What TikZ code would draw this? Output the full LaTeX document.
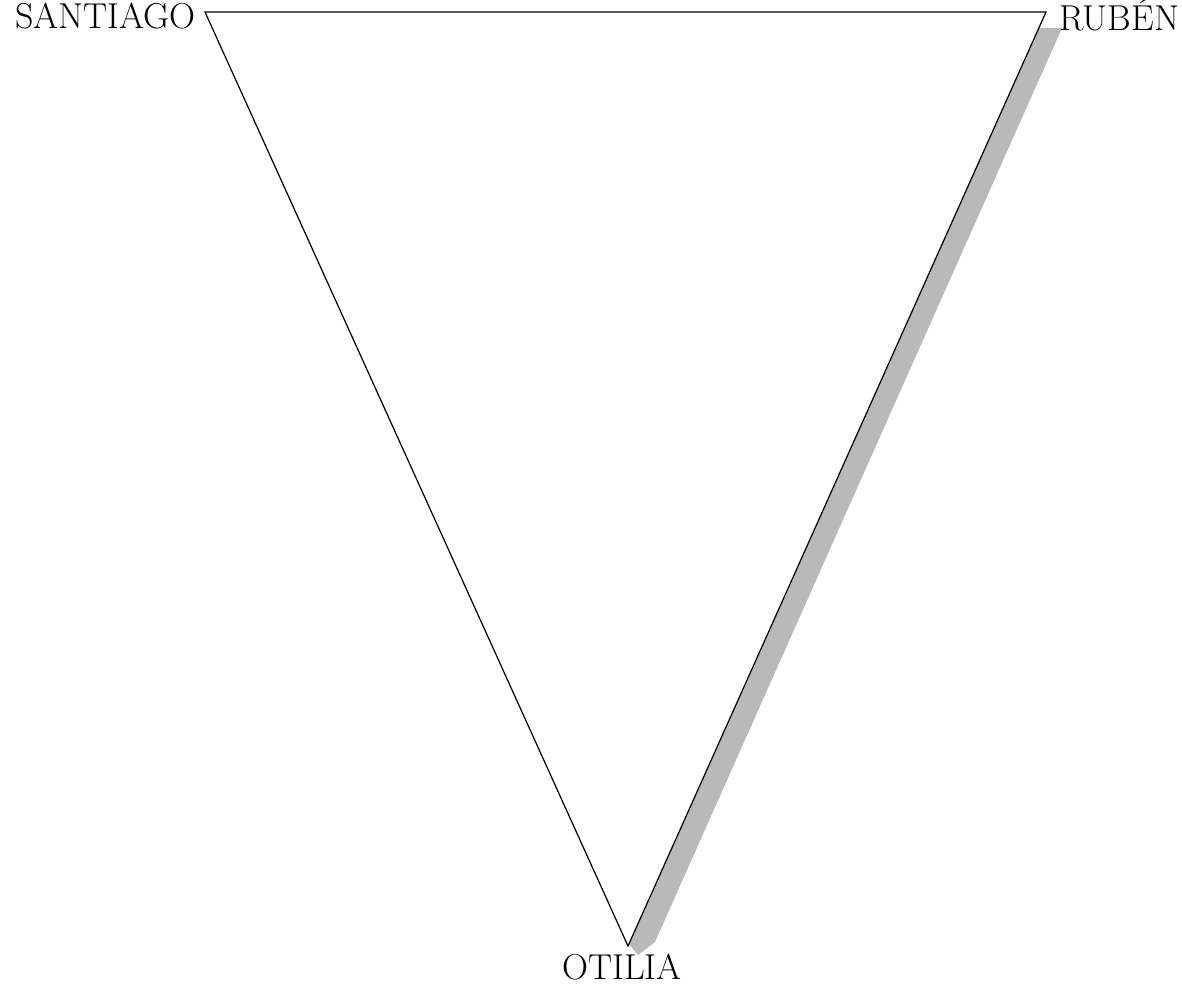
\documentclass[tikz,border=0pt]{standalone}
\usetikzlibrary{positioning}
\tikzset{who/.style={font=\fontsize{20.5}{20.5}\selectfont, inner sep=0pt},
  side/.style={line width=0.7pt}}
\begin{document}
\begin{tikzpicture}[x=0.02cm,y=-0.02cm]
  \useasboundingbox (0,0) rectangle (1182,990);
  % corners of the triangle
  \coordinate (santiago) at (205,12);
  \coordinate (ruben) at (1046,12);
  \coordinate (otilia) at (628,946);
  % grey shadow along the right side
  \fill[gray!55] (1039,28) -- (1062,28) -- (655,942) -- (638,955) -- (629,944) -- cycle;
  \draw[side] (santiago) -- (ruben) -- (otilia) -- cycle;
  % names
  \node[who, anchor=base east] (lsantiago) at (196,29) {SANTIAGO};
  \node[who, anchor=base west] (lruben) at (1059,31) {RUBÉN};
  \node[who, anchor=base] (lotilia) at (622,979) {OTILIA};
\end{tikzpicture}
\end{document}
